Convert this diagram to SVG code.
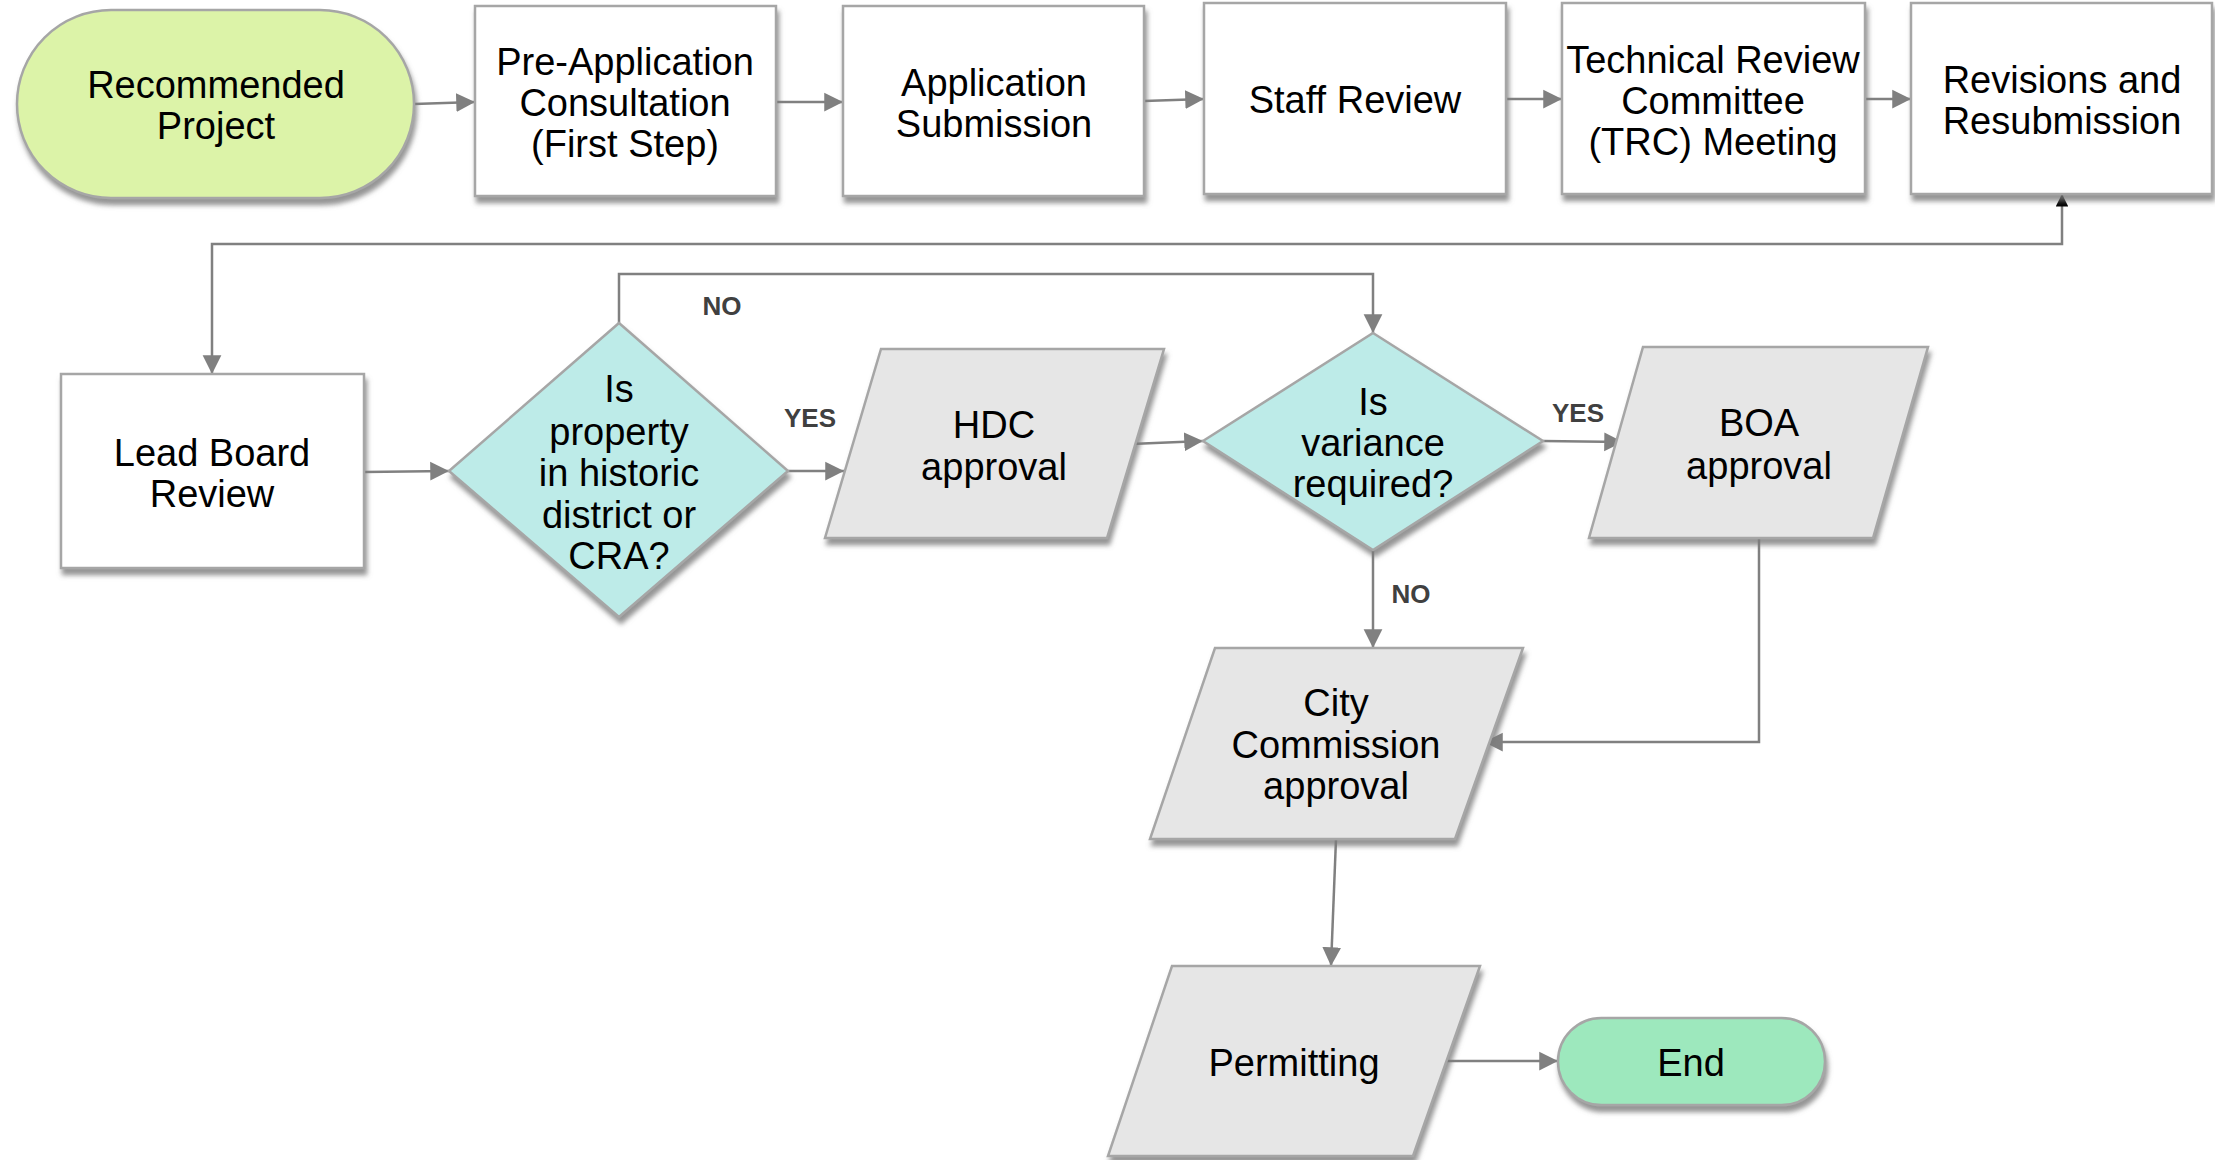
<svg xmlns="http://www.w3.org/2000/svg" width="2215" height="1160" viewBox="0 0 2215 1160">
<defs>
<filter id="sh" x="-10%" y="-10%" width="130%" height="130%">
<feDropShadow dx="2" dy="6" stdDeviation="2.5" flood-color="#7a7a7a" flood-opacity="0.8"/>
</filter>
<marker id="ah" viewBox="0 0 10 10" refX="10" refY="5" markerWidth="7.5" markerHeight="8" markerUnits="strokeWidth" orient="auto">
<path d="M0,0 L10,5 L0,10 z" fill="#808080"/>
</marker>
<marker id="ahb" viewBox="0 0 10 10" refX="10" refY="5" markerWidth="5" markerHeight="5" markerUnits="strokeWidth" orient="auto-start-reverse">
<path d="M0,0 L10,5 L0,10 z" fill="#000"/>
</marker>
</defs>
<style>
.box{fill:#fff;stroke:#a6a6a6;stroke-width:2.5;filter:url(#sh)}
.start{fill:#dcf3a8;stroke:#a6a6a6;stroke-width:2.5;filter:url(#sh)}
.end{fill:#9de8bd;stroke:#a6a6a6;stroke-width:2.5;filter:url(#sh)}
.dia{fill:#bdebe8;stroke:#a6a6a6;stroke-width:2.5;filter:url(#sh)}
.par{fill:#e6e6e6;stroke:#a6a6a6;stroke-width:2.5;filter:url(#sh)}
.t{font-family:"Liberation Sans",Arial,sans-serif;font-size:38px;fill:#000;text-anchor:middle}
.lbl{font-family:"Liberation Sans",Arial,sans-serif;font-size:26px;font-weight:bold;fill:#404040;text-anchor:middle}
.c{fill:none;stroke:#808080;stroke-width:2.5}
</style>

<g id="connectors">
<path class="c" d="M414,104 L475,102" marker-end="url(#ah)"/>
<path class="c" d="M776,102 L843,102" marker-end="url(#ah)"/>
<path class="c" d="M1144,101 L1204,99" marker-end="url(#ah)"/>
<path class="c" d="M1506,99 L1562,99" marker-end="url(#ah)"/>
<path class="c" d="M1865,99 L1911,99" marker-end="url(#ah)"/>
<path class="c" d="M2062,194 L2062,244 L212,244 L212,374" marker-start="url(#ahb)" marker-end="url(#ah)"/>
<path class="c" d="M364,472 L449,471" marker-end="url(#ah)"/>
<path class="c" d="M619,323 L619,274 L1373,274 L1373,333" marker-end="url(#ah)"/>
<path class="c" d="M788,471 L844,471" marker-end="url(#ah)"/>
<path class="c" d="M1131,444 L1203,441" marker-end="url(#ah)"/>
<path class="c" d="M1543,441 L1623,442" marker-end="url(#ah)"/>
<path class="c" d="M1373,550 L1373,648" marker-end="url(#ah)"/>
<path class="c" d="M1759,538 L1759,742 L1484,742" marker-end="url(#ah)"/>
<path class="c" d="M1336,839 L1331,966" marker-end="url(#ah)"/>
<path class="c" d="M1447,1061 L1558,1061" marker-end="url(#ah)"/>
<text class="lbl" x="722" y="315">NO</text>
<text class="lbl" x="810" y="427">YES</text>
<text class="lbl" x="1578" y="422">YES</text>
<text class="lbl" x="1411" y="603">NO</text>
</g>

<g id="recommended-project">
<rect class="start" x="17" y="10" width="397" height="188" rx="94" ry="94"/>
<text class="t" x="216" y="98">Recommended</text>
<text class="t" x="216" y="139">Project</text>
</g>

<g id="pre-application">
<rect class="box" x="475" y="6" width="301" height="190"/>
<text class="t" x="625" y="75">Pre-Application</text>
<text class="t" x="625" y="116">Consultation</text>
<text class="t" x="625" y="157">(First Step)</text>
</g>

<g id="application-submission">
<rect class="box" x="843" y="6" width="301" height="190"/>
<text class="t" x="994" y="96">Application</text>
<text class="t" x="994" y="137">Submission</text>
</g>

<g id="staff-review">
<rect class="box" x="1204" y="3" width="302" height="191"/>
<text class="t" x="1355" y="113">Staff Review</text>
</g>

<g id="trc-meeting">
<rect class="box" x="1562" y="3" width="303" height="191"/>
<text class="t" x="1713" y="73">Technical Review</text>
<text class="t" x="1713" y="114">Committee</text>
<text class="t" x="1713" y="155">(TRC) Meeting</text>
</g>

<g id="revisions">
<rect class="box" x="1911" y="3" width="301" height="191"/>
<text class="t" x="2062" y="93">Revisions and</text>
<text class="t" x="2062" y="134">Resubmission</text>
</g>

<g id="lead-board-review">
<rect class="box" x="61" y="374" width="303" height="194"/>
<text class="t" x="212" y="466">Lead Board</text>
<text class="t" x="212" y="507">Review</text>
</g>

<g id="historic-decision">
<polygon class="dia" points="619,323 788,471 619,617 449,471"/>
<text class="t" x="619" y="402">Is</text>
<text class="t" x="619" y="445">property</text>
<text class="t" x="619" y="486">in historic</text>
<text class="t" x="619" y="528">district or</text>
<text class="t" x="619" y="569">CRA?</text>
</g>

<g id="hdc-approval">
<polygon class="par" points="881,349 1164,349 1107,538 825,538"/>
<text class="t" x="994" y="438">HDC</text>
<text class="t" x="994" y="480">approval</text>
</g>

<g id="variance-decision">
<polygon class="dia" points="1373,333 1543,441 1373,550 1203,441"/>
<text class="t" x="1373" y="415">Is</text>
<text class="t" x="1373" y="456">variance</text>
<text class="t" x="1373" y="497">required?</text>
</g>

<g id="boa-approval">
<polygon class="par" points="1643,347 1928,347 1873,538 1589,538"/>
<text class="t" x="1759" y="436">BOA</text>
<text class="t" x="1759" y="479">approval</text>
</g>

<g id="city-commission">
<polygon class="par" points="1215,648 1523,648 1455,839 1150,839"/>
<text class="t" x="1336" y="716">City</text>
<text class="t" x="1336" y="758">Commission</text>
<text class="t" x="1336" y="799">approval</text>
</g>

<g id="permitting">
<polygon class="par" points="1172,966 1480,966 1413,1156 1108,1156"/>
<text class="t" x="1294" y="1076">Permitting</text>
</g>

<g id="end">
<rect class="end" x="1558" y="1018" width="267" height="87" rx="43.5" ry="43.5"/>
<text class="t" x="1691" y="1076">End</text>
</g>
</svg>
